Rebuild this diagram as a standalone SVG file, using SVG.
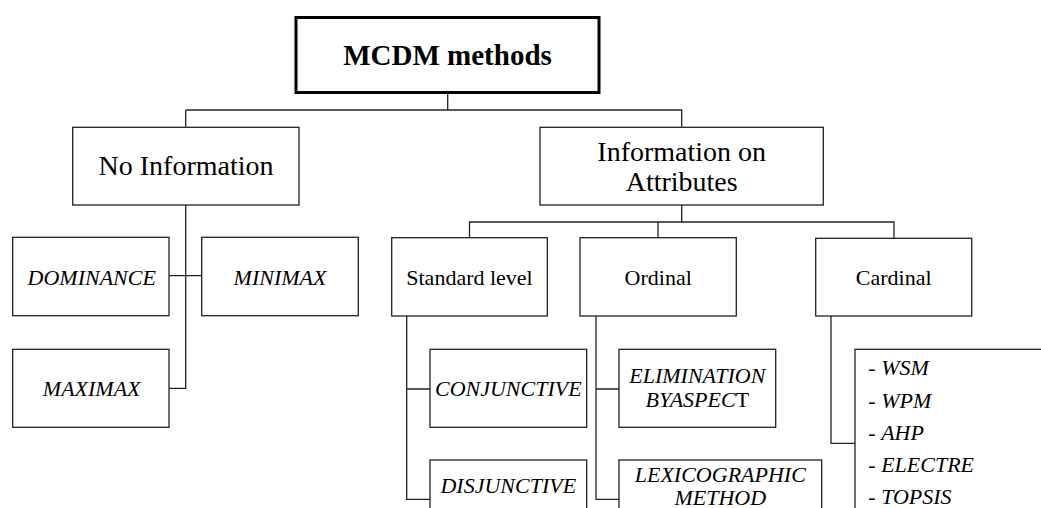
<svg xmlns="http://www.w3.org/2000/svg" width="1041" height="508" viewBox="0 0 1041 508">
<style>
.box{fill:#fff;stroke:#222;stroke-width:1.3}
.main{fill:#fff;stroke:#000;stroke-width:3}
text{font-family:'Liberation Serif','Times New Roman',Tinos,'DejaVu Serif',serif;fill:#000}
.t{text-anchor:middle}
.big{font-size:28px}
.mid{font-size:22px}
.it{font-size:22px;font-style:italic}
.li{font-size:22px}
.c{fill:none;stroke:#222;stroke-width:1.3}
</style>
<rect width="1041" height="508" fill="#fff"/>
<g id="connectors">
<path class="c" d="M447.7 94V110M185.7 110H681.7V127.3M185.7 110V127.3"/>
<path class="c" d="M185.7 205V388.3H169M169 275.7H201.7"/>
<path class="c" d="M681.7 205V222M469.5 237.7V222H894V238.3M658 222V237.7"/>
<path class="c" d="M406.7 316V499.3H430M406.7 389H430"/>
<path class="c" d="M596 316V499.3H619M596 389H619"/>
<path class="c" d="M831 316V443.3H855"/>
</g>
<g id="n-mcdm"><rect class="main" x="296" y="17.5" width="303" height="75"/><text class="t" x="447.5" y="65" font-size="29" font-weight="bold" font-family="Liberation Serif, serif">MCDM methods</text></g>
<g id="n-noinfo"><rect class="box" x="72.7" y="127.3" width="226.3" height="77.7"/><text class="t big" x="186" y="175" font-family="Liberation Serif, serif">No Information</text></g>
<g id="n-infoattr"><rect class="box" x="540" y="127.3" width="283.3" height="77.7"/><text class="t big" x="681.7" y="161" font-family="Liberation Serif, serif">Information on</text><text class="t big" x="681.7" y="190.7" font-family="Liberation Serif, serif">Attributes</text></g>
<g id="n-dominance"><rect class="box" x="12.7" y="237.3" width="156.3" height="78.4"/><text class="t it" x="91.7" y="284.5" font-family="Liberation Serif, serif">DOMINANCE</text></g>
<g id="n-minimax"><rect class="box" x="201.7" y="237.3" width="156.6" height="78.4"/><text class="t it" x="280" y="284.5" font-family="Liberation Serif, serif">MINIMAX</text></g>
<g id="n-maximax"><rect class="box" x="12.7" y="349.3" width="156.3" height="78"/><text class="t it" x="91.7" y="396" font-family="Liberation Serif, serif">MAXIMAX</text></g>
<g id="n-standard"><rect class="box" x="391.7" y="237.7" width="155.6" height="78.3"/><text class="t mid" x="469.5" y="285" font-family="Liberation Serif, serif">Standard level</text></g>
<g id="n-ordinal"><rect class="box" x="580" y="237.7" width="156.3" height="78.3"/><text class="t mid" x="658.2" y="285" font-family="Liberation Serif, serif">Ordinal</text></g>
<g id="n-cardinal"><rect class="box" x="815.7" y="238.3" width="156" height="77.7"/><text class="t mid" x="893.7" y="285" font-family="Liberation Serif, serif">Cardinal</text></g>
<g id="n-conjunctive"><rect class="box" x="430" y="349.3" width="156.7" height="78"/><text class="t it" x="508.3" y="396" font-family="Liberation Serif, serif">CONJUNCTIVE</text></g>
<g id="n-disjunctive"><rect class="box" x="430" y="460" width="156.7" height="80"/><text class="t it" x="508.3" y="493.3" font-family="Liberation Serif, serif">DISJUNCTIVE</text></g>
<g id="n-elimination"><rect class="box" x="619" y="349.3" width="156.7" height="78"/><text class="t it" x="697.3" y="383.3" font-family="Liberation Serif, serif">ELIMINATION</text><text class="t it" x="697.3" y="406.7" font-family="Liberation Serif, serif">BYASPEC<tspan font-style="normal">T</tspan></text></g>
<g id="n-lexico"><rect class="box" x="619" y="460" width="202.7" height="80"/><text class="t it" x="720.3" y="481.7" font-family="Liberation Serif, serif">LEXICOGRAPHIC</text><text class="t it" x="720.3" y="505" font-family="Liberation Serif, serif">METHOD</text></g>
<g id="n-cardlist"><rect class="box" x="855" y="349.3" width="200" height="200"/>
<text class="li" x="868.3" y="375" font-family="Liberation Serif, serif">- <tspan font-style="italic">WSM</tspan></text>
<text class="li" x="868.3" y="407.5" font-family="Liberation Serif, serif">- <tspan font-style="italic">WPM</tspan></text>
<text class="li" x="868.3" y="440" font-family="Liberation Serif, serif">- <tspan font-style="italic">AHP</tspan></text>
<text class="li" x="868.3" y="472.3" font-family="Liberation Serif, serif">- <tspan font-style="italic">ELECTRE</tspan></text>
<text class="li" x="868.3" y="504" font-family="Liberation Serif, serif">- <tspan font-style="italic">TOPSIS</tspan></text>
</g>
</svg>
